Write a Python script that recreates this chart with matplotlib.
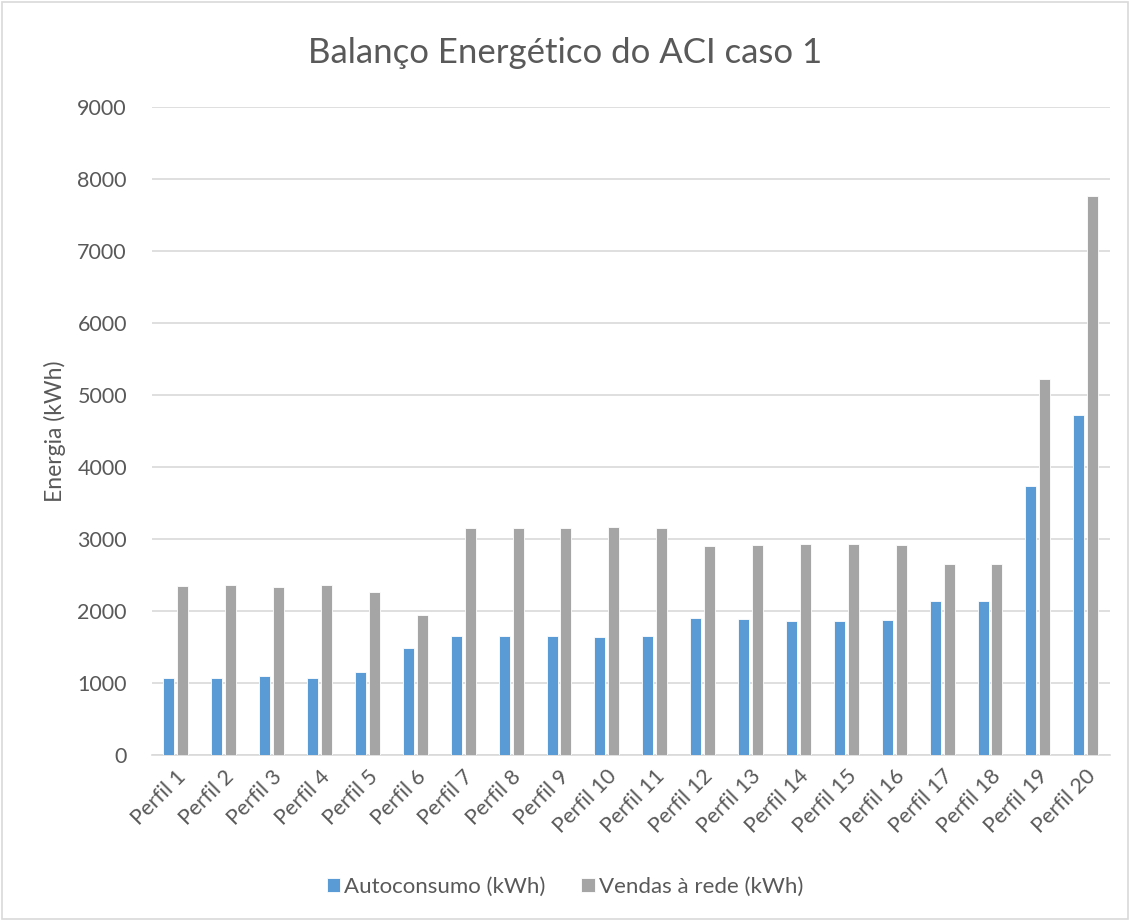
import matplotlib.pyplot as plt
import matplotlib
import numpy as np
from matplotlib.patches import Rectangle

matplotlib.rcParams['font.family'] = ['Lato', 'DejaVu Sans']

perfis = [f"Perfil {i}" for i in range(1, 21)]
autoconsumo = [1075, 1071, 1097, 1065, 1162, 1491, 1649, 1649, 1649, 1645,
               1649, 1903, 1886, 1868, 1860, 1874, 2143, 2143, 3736, 4725]
vendas_rede = [2347, 2357, 2333, 2361, 2269, 1940, 3153, 3153, 3153, 3162,
               3153, 2899, 2923, 2932, 2935, 2920, 2648, 2648, 5225, 7758]
yticks = list(range(0, 9001, 1000))

text_color = "#595959"
grid_color = "#d9d9d9"

fig = plt.figure(figsize=(11.3, 9.21), dpi=100)
ax = fig.add_axes([0.1345, 0.180, 0.8475, 0.704])

x = np.arange(len(perfis))
w = 0.23
ax.bar(x - w / 2 - 0.03, autoconsumo, width=w, color="#5b9bd5",
       edgecolor="white", linewidth=0.6, label="Autoconsumo (kWh)", zorder=3)
ax.bar(x + w / 2 + 0.03, vendas_rede, width=w, color="#a5a5a5",
       edgecolor="white", linewidth=0.6, label="Vendas à rede (kWh)", zorder=3)

ax.set_xlim(-0.5, len(perfis) - 0.5)
ax.set_ylim(0, 9000)
ax.set_yticks(yticks)
ax.set_xticks(x)
ax.set_xticklabels(perfis, rotation=45, ha='right', rotation_mode='anchor')
ax.tick_params(axis='both', length=0, labelsize=15.5, colors=text_color)
ax.tick_params(axis='x', pad=8)
ax.tick_params(axis='y', pad=18)
ax.grid(axis='y', color=grid_color, linewidth=1.2, zorder=0)
for s in ['top', 'right', 'left']:
    ax.spines[s].set_visible(False)
ax.spines['bottom'].set_color(grid_color)
ax.spines['bottom'].set_linewidth(1.2)

ax.set_ylabel("Energia (kWh)", fontsize=16.5, color=text_color, labelpad=8)
fig.text(0.5, 0.942, "Balanço Energético do ACI caso 1", ha='center', va='center',
         fontsize=25, color=text_color)

handles, labels = ax.get_legend_handles_labels()
fig.legend(handles, labels, loc='center', bbox_to_anchor=(0.5, 0.037), ncol=2,
           frameon=False, fontsize=16, handlelength=0.6, handleheight=0.6,
           handletextpad=0.2, columnspacing=1.6, labelcolor=text_color)

fig.patches.append(Rectangle((0.002, 0.002), 0.996, 0.996, transform=fig.transFigure,
                             fill=False, edgecolor=grid_color, linewidth=1.2))

plt.savefig("out.png", dpi=100)
plt.close()
